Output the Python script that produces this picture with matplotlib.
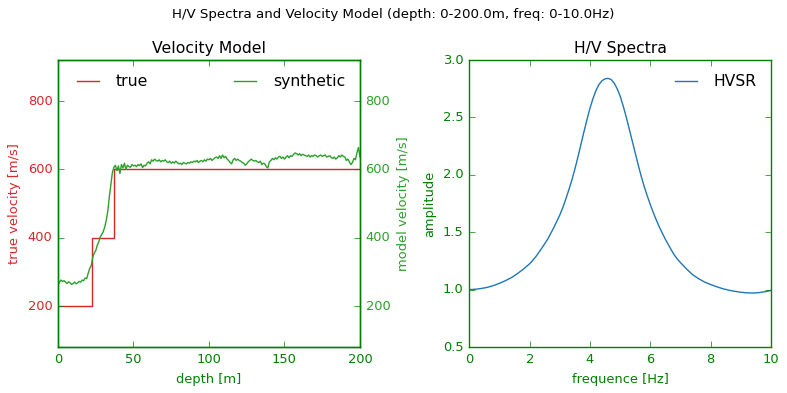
import numpy as np
import matplotlib
matplotlib.use("Agg")
import matplotlib.pyplot as plt

# ---- data ----
layer_tops = [0, 22.5, 37, 200]
layer_vel = [200, 400, 600, 600]

synth_depth = list(range(0, 201))
synth_vel = [
    262, 270, 276, 272, 274, 270, 266, 271, 268, 263,
    266, 270, 265, 268, 272, 270, 276, 274, 282, 280,
    296, 310, 318, 342, 355, 362, 378, 388, 402, 410,
    418, 432, 452, 478, 520, 556, 590, 606, 612, 596,
    610, 588, 614, 604, 618, 600, 612, 608, 606, 614,
    610, 612, 608, 614, 611, 616, 605, 612, 610, 618,
    622, 616, 628, 624, 630, 626, 624, 628, 622, 626,
    624, 628, 622, 620, 624, 618, 622, 618, 624, 620,
    616, 618, 614, 620, 618, 616, 620, 618, 622, 620,
    624, 622, 626, 620, 624, 626, 622, 628, 624, 630,
    628, 632, 626, 630, 634, 636, 632, 640, 632, 642,
    634, 638, 630, 626, 620, 616, 628, 632, 626, 630,
    626, 624, 620, 618, 612, 616, 622, 626, 630, 626,
    624, 626, 622, 620, 624, 614, 618, 616, 608, 604,
    622, 626, 632, 628, 634, 630, 636, 638, 632, 636,
    630, 636, 640, 634, 640, 638, 644, 648, 646, 642,
    646, 640, 644, 642, 640, 638, 642, 636, 640, 638,
    642, 640, 636, 640, 642, 638, 640, 642, 636, 638,
    640, 634, 632, 636, 630, 634, 640, 636, 642, 638,
    636, 626, 630, 622, 614, 620, 632, 628, 648, 664,
    636,
]

freq = [0.0, 0.2, 0.4, 0.6, 0.8, 1.0, 1.2, 1.4, 1.6, 1.8,
        2.0, 2.2, 2.4, 2.6, 2.8, 3.0, 3.1, 3.2, 3.3, 3.4,
        3.5, 3.6, 3.7, 3.8, 3.9, 4.0, 4.1, 4.2, 4.3, 4.4,
        4.5, 4.6, 4.7, 4.8, 4.9, 5.0, 5.1, 5.2, 5.3, 5.4,
        5.5, 5.6, 5.7, 5.8, 5.9, 6.0, 6.1, 6.2, 6.3, 6.4,
        6.5, 6.6, 6.7, 6.8, 6.9, 7.0, 7.2, 7.4, 7.6, 7.8,
        8.0, 8.2, 8.4, 8.6, 8.8, 9.0, 9.2, 9.4, 9.6, 9.8,
        10.0]
hvsr = [1.000, 1.003, 1.010, 1.020, 1.035, 1.055, 1.078, 1.105, 1.140, 1.180,
        1.225, 1.285, 1.360, 1.440, 1.540, 1.650, 1.715, 1.790, 1.870, 1.955,
        2.050, 2.155, 2.265, 2.375, 2.480, 2.580, 2.665, 2.735, 2.788, 2.820,
        2.836, 2.840, 2.830, 2.800, 2.750, 2.685, 2.600, 2.505, 2.400, 2.295,
        2.190, 2.085, 1.985, 1.895, 1.815, 1.740, 1.670, 1.605, 1.545, 1.490,
        1.438, 1.390, 1.343, 1.300, 1.265, 1.235, 1.180, 1.130, 1.095, 1.066,
        1.044, 1.025, 1.008, 0.995, 0.985, 0.977, 0.972, 0.970, 0.974, 0.982,
        0.993]

xticks_depth = [0, 50, 100, 150, 200]
yticks_vel = [200, 400, 600, 800]
xticks_freq = [0, 2, 4, 6, 8, 10]
yticks_amp = [0.5, 1.0, 1.5, 2.0, 2.5, 3.0]

# ---- style ----
plt.style.use("classic")
plt.rcParams["font.family"] = ["DejaVu Sans"]
plt.rcParams["font.size"] = 9.4
plt.rcParams["figure.facecolor"] = "white"
plt.rcParams["savefig.facecolor"] = "white"

RED = "#d62728"
GREEN = "#2ca02c"
DKGREEN = "green"
BLUE = "#1f77b4"

fig = plt.figure(figsize=(7.87, 3.93), dpi=100)
ax1 = fig.add_axes([0.0737, 0.117, 0.3837, 0.7303])
ax3 = fig.add_axes([0.5963, 0.117, 0.3834, 0.7303])

# Velocity model
l1, = ax1.step(layer_tops, layer_vel, where="post", color=RED, lw=1.0, label="true")
ax1.set_xlim(0, 200)
ax1.set_ylim(80, 920)
ax1.set_xticks(xticks_depth)
ax1.set_yticks(yticks_vel)
ax1.set_xlabel("depth [m]", color=DKGREEN)
ax1.set_ylabel("true velocity [m/s]", color=RED)
ax1.tick_params(axis="y", colors=DKGREEN, labelcolor=RED, right=False)
ax1.tick_params(axis="x", colors=DKGREEN, labelcolor=DKGREEN)
ax1.set_title("Velocity Model")

ax2 = ax1.twinx()
l2, = ax2.plot(synth_depth, synth_vel, color=GREEN, lw=1.0, label="synthetic")
ax2.set_ylim(80, 920)
ax2.set_yticks(yticks_vel)
ax2.set_ylabel("model velocity [m/s]", color=GREEN)
ax2.tick_params(axis="y", colors=DKGREEN, labelcolor=GREEN)
for a in (ax1, ax2):
    for sp in a.spines.values():
        sp.set_color(DKGREEN)

ax1.legend([l1, l2], ["true", "synthetic"], loc="upper center", ncol=2,
           mode="expand", frameon=False, fontsize="large")

# HVSR
ax3.plot(freq, hvsr, color=BLUE, lw=1.0, label="HVSR")
ax3.set_xlim(0, 10)
ax3.set_ylim(0.5, 3.0)
ax3.set_xticks(xticks_freq)
ax3.set_yticks(yticks_amp)
ax3.set_xlabel("frequence [Hz]", color=DKGREEN)
ax3.set_ylabel("amplitude", color=DKGREEN)
ax3.tick_params(colors=DKGREEN, labelcolor=DKGREEN)
for sp in ax3.spines.values():
    sp.set_color(DKGREEN)
ax3.set_title("H/V Spectra")
ax3.legend(loc="upper right", frameon=False, fontsize="large")

fig.suptitle("H/V Spectra and Velocity Model (depth: 0-200.0m, freq: 0-10.0Hz)",
             fontsize=9.6, y=0.964, va="center")

fig.savefig("out.png", dpi=100)
